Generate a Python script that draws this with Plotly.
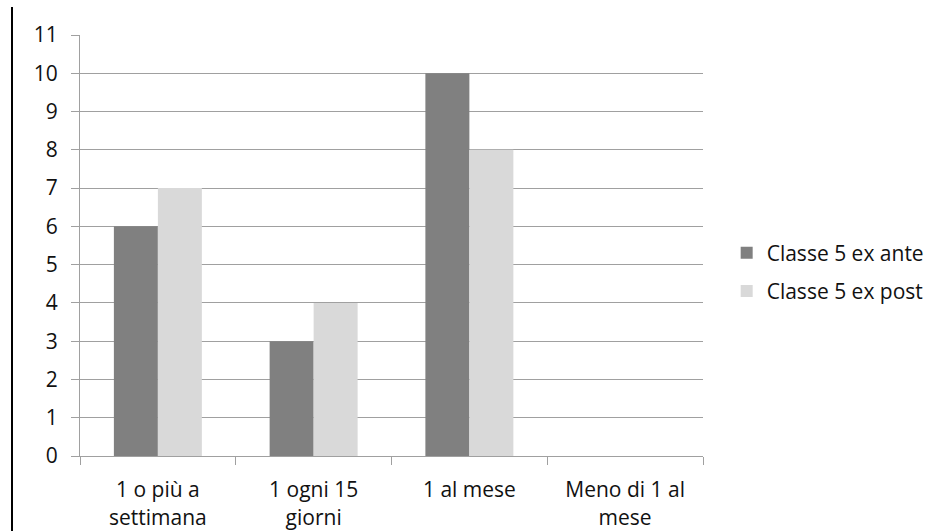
import plotly.graph_objects as go

categories = ["1 o più a<br>settimana", "1 ogni 15<br>giorni", "1 al mese", "Meno di 1 al<br>mese"]
ante = [6, 3, 10, 0]
post = [7, 4, 8, 0]
series_names = ["Classe 5 ex ante", "Classe 5 ex post"]

FONT = dict(family="Open Sans, Liberation Sans, sans-serif", size=21, color="#111111")

fig = go.Figure()
fig.add_trace(go.Bar(x=categories, y=ante, name=series_names[0],
                     marker=dict(color="#808080", line=dict(width=0)), legendgroup="a"))
fig.add_trace(go.Bar(x=categories, y=post, name=series_names[1],
                     marker=dict(color="#d9d9d9", line=dict(width=0)), legendgroup="b"))

fig.update_layout(
    width=940, height=531,
    margin=dict(l=80, r=237, t=35, b=75, autoexpand=False),
    paper_bgcolor="white", plot_bgcolor="white",
    font=FONT,
    barmode="group", bargap=0.435, bargroupgap=0,
    legend=dict(x=1.038, y=0.437, xanchor="left", yanchor="middle",
                traceorder="grouped", tracegroupgap=8, font=FONT,
                itemwidth=30),
    xaxis=dict(showgrid=False, showline=True, linecolor="#a0a0a0", linewidth=1,
               ticks="outside", ticklen=8, tickcolor="#a0a0a0", tickson="boundaries",
               ticklabelstandoff=15, tickfont=FONT, automargin=False),
    yaxis=dict(range=[0, 11], dtick=1, showgrid=True, gridcolor="#a0a0a0", gridwidth=1,
               showline=True, linecolor="#a0a0a0", linewidth=1,
               ticks="outside", ticklen=8, tickcolor="#a0a0a0", zeroline=False,
               ticklabelstandoff=9, tickfont=FONT, automargin=False),
)

# frame line on the left edge of the page
fig.add_shape(type="line", xref="paper", yref="paper",
              x0=(12 - 80) / 623, x1=(12 - 80) / 623,
              y0=(456 - 7) / 421, y1=(456 - 531) / 421,
              line=dict(color="black", width=2))

fig.write_html("out.html")
